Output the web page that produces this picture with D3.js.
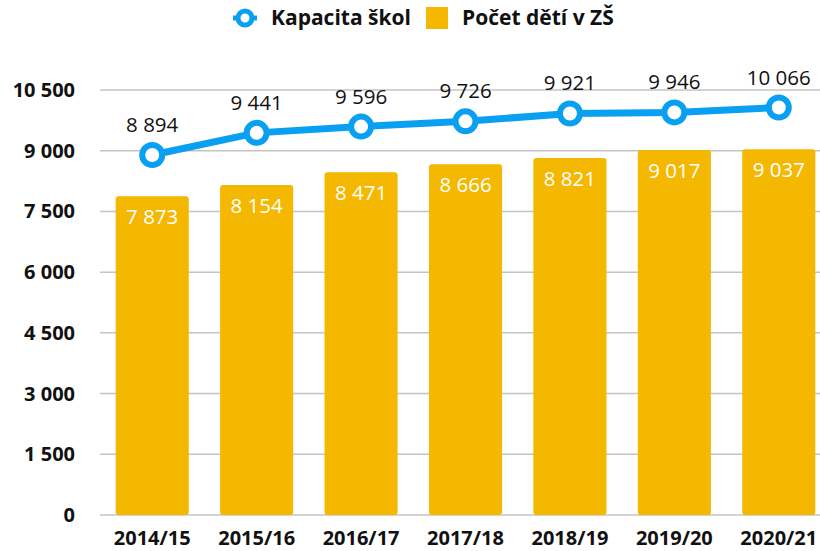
<!DOCTYPE html>
<html>
<head>
<meta charset="utf-8">
<script src="https://cdn.jsdelivr.net/npm/d3@7"></script>
<style>
  body { margin: 0; background: #fff; }
  text { font-family: "Open Sans", sans-serif; }
</style>
</head>
<body>
<svg id="chart" width="820" height="551"></svg>
<script>
const years = ['2014/15', '2015/16', '2016/17', '2017/18', '2018/19', '2019/20', '2020/21'];
const kapacita = [8894, 9441, 9596, 9726, 9921, 9946, 10066];
const pocetDeti = [7873, 8154, 8471, 8666, 8821, 9017, 9037];
const yTicks = [0, 1500, 3000, 4500, 6000, 7500, 9000, 10500];

const width = 820, height = 551;
const fmt = v => d3.format(',')(v).replace(/,/g, ' ');

const svg = d3.select('#chart');

const x = d3.scaleBand()
  .domain(years)
  .range([100, 831])
  .paddingInner(0.3)
  .paddingOuter(0.15);

const y = d3.scaleLinear()
  .domain([0, 10500])
  .range([515, 90]);

// gridlines
svg.append('g')
  .selectAll('line')
  .data(yTicks)
  .enter()
  .append('line')
  .attr('x1', 100)
  .attr('x2', 820)
  .attr('y1', d => y(d))
  .attr('y2', d => y(d))
  .attr('stroke', '#c4c4c4')
  .attr('stroke-width', 1.5);

// y labels
svg.append('g')
  .selectAll('text')
  .data(yTicks)
  .enter()
  .append('text')
  .attr('x', 75)
  .attr('y', d => y(d))
  .attr('dy', '0.35em')
  .attr('text-anchor', 'end')
  .attr('font-size', 20)
  .attr('font-weight', 'bold')
  .attr('fill', '#111')
  .text(d => fmt(d));

// x labels
svg.append('g')
  .selectAll('text')
  .data(years)
  .enter()
  .append('text')
  .attr('x', d => x(d) + x.bandwidth() / 2)
  .attr('y', 545)
  .attr('text-anchor', 'middle')
  .attr('font-size', 20)
  .attr('font-weight', 'bold')
  .attr('fill', '#111')
  .text(d => d);

// bars
svg.append('g')
  .selectAll('rect')
  .data(pocetDeti)
  .enter()
  .append('rect')
  .attr('x', (d, i) => x(years[i]))
  .attr('y', d => y(d))
  .attr('width', x.bandwidth())
  .attr('height', d => y(0) - y(d))
  .attr('rx', 3)
  .attr('fill', '#f5b800');

svg.append('g')
  .selectAll('text')
  .data(pocetDeti)
  .enter()
  .append('text')
  .attr('x', (d, i) => x(years[i]) + x.bandwidth() / 2)
  .attr('y', d => y(d) + 28)
  .attr('text-anchor', 'middle')
  .attr('font-size', 20.5)
  .attr('fill', '#fff')
  .text(d => fmt(d));

// line
const cx = i => x(years[i]) + x.bandwidth() / 2;
const line = d3.line()
  .x((d, i) => cx(i))
  .y(d => y(d));

svg.append('path')
  .datum(kapacita)
  .attr('d', line)
  .attr('fill', 'none')
  .attr('stroke', '#0aa0f2')
  .attr('stroke-width', 7);

svg.append('g')
  .selectAll('circle')
  .data(kapacita)
  .enter()
  .append('circle')
  .attr('cx', (d, i) => cx(i))
  .attr('cy', d => y(d))
  .attr('r', 10)
  .attr('fill', '#fff')
  .attr('stroke', '#0aa0f2')
  .attr('stroke-width', 6);

svg.append('g')
  .selectAll('text')
  .data(kapacita)
  .enter()
  .append('text')
  .attr('x', (d, i) => cx(i))
  .attr('y', d => y(d) - 23)
  .attr('text-anchor', 'middle')
  .attr('font-size', 20.5)
  .attr('fill', '#111')
  .text(d => fmt(d));

// legend
const legend = svg.append('g');
legend.append('line')
  .attr('x1', 233).attr('x2', 257)
  .attr('y1', 18).attr('y2', 18)
  .attr('stroke', '#0aa0f2').attr('stroke-width', 5);
legend.append('circle')
  .attr('cx', 245).attr('cy', 18).attr('r', 7)
  .attr('fill', '#fff').attr('stroke', '#0aa0f2').attr('stroke-width', 5);
legend.append('text')
  .attr('x', 271).attr('y', 18).attr('dy', '0.35em')
  .attr('font-size', 21).attr('font-weight', 'bold').attr('fill', '#111')
  .text('Kapacita škol');
legend.append('rect')
  .attr('x', 426).attr('y', 7).attr('width', 22).attr('height', 22)
  .attr('fill', '#f5b800');
legend.append('text')
  .attr('x', 462).attr('y', 18).attr('dy', '0.35em')
  .attr('font-size', 21).attr('font-weight', 'bold').attr('fill', '#111')
  .text('Počet dětí v ZŠ');
</script>
</body>
</html>
